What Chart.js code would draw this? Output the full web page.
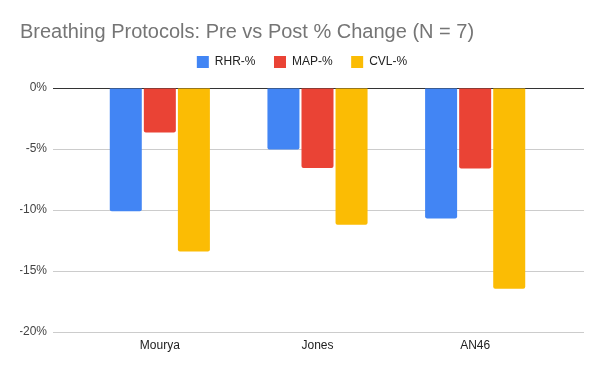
<!DOCTYPE html>
<html>
<head>
<meta charset="utf-8">
<script src="https://cdn.jsdelivr.net/npm/chart.js@4"></script>
<style>
  html, body { margin: 0; padding: 0; background: #fff; }
  #wrap { width: 600px; height: 371px; }
</style>
</head>
<body>
<div id="wrap"><canvas id="chart"></canvas></div>
<script>
// categories and series (% change pre vs post)
const labels = ['Mourya', 'Jones', 'AN46'];
const rhr = [-10.1, -5.05, -10.7];
const map = [-3.65, -6.55, -6.6];
const cvl = [-13.4, -11.2, -16.45];

const yMin = -20;
const yMax = 0;
const yStep = 5;

const gridColor = (ctx) => (ctx.tick && ctx.tick.value === 0) ? '#333333' : '#cccccc';

const data = {
    labels: labels,
    datasets: [{
        label: 'RHR-%',
        backgroundColor: '#4285F4',
        data: rhr,
    },{
        label: 'MAP-%',
        backgroundColor: '#EA4335',
        data: map,
    },{
        label: 'CVL-%',
        backgroundColor: '#FBBC04',
        data: cvl,
    }]
};

const config = {
    type: 'bar',
    data: data,
    options: {
        responsive: true,
        maintainAspectRatio: false,
        animation: false,
        datasets: {
            bar: {
                categoryPercentage: 0.648,
                barPercentage: 0.94,
                borderRadius: 2,
                borderSkipped: 'start'
            }
        },
        layout: {
            padding: { left: 20, right: 16, top: 0, bottom: 0 }
        },
        plugins: {
            title: {
                display: true,
                text: 'Breathing Protocols: Pre vs Post % Change (N = 7)',
                align: 'start',
                color: '#757575',
                font: { family: '"Liberation Sans", Arial, sans-serif', size: 20, weight: 'normal', lineHeight: 1.2 },
                padding: { top: 20.5, bottom: -7 }
            },
            legend: {
                display: true,
                position: 'top',
                weight: 1600,
                labels: {
                    boxWidth: 12,
                    boxHeight: 12,
                    padding: 18.5,
                    color: '#222222',
                    font: { family: '"Liberation Sans", Arial, sans-serif', size: 12 }
                }
            },
            // empty subtitle: just a gap between legend and plot
            subtitle: {
                display: true,
                text: '',
                font: { size: 10, lineHeight: 1 },
                padding: 0
            },
            tooltip: { enabled: false }
        },
        scales: {
            x: {
                grid: { display: false, drawTicks: false },
                border: { display: false },
                ticks: {
                    color: '#222222',
                    padding: 6,
                    font: { family: '"Liberation Sans", Arial, sans-serif', size: 12 }
                },
                afterFit: (scale) => { scale.height = 39; }
            },
            y: {
                position: 'left',
                min: yMin,
                max: yMax,
                grid: { color: gridColor, tickLength: 28, lineWidth: 1 },
                border: { display: false },
                ticks: {
                    stepSize: yStep,
                    padding: 6,
                    color: '#444444',
                    font: { family: '"Liberation Sans", Arial, sans-serif', size: 12 },
                    callback: (v) => v + '%'
                },
                afterFit: (scale) => { scale.width = 61; }
            },
            y2: {
                position: 'right',
                min: yMin,
                max: yMax,
                grid: { color: gridColor, tickLength: 30, lineWidth: 1 },
                border: { display: false },
                ticks: { display: false, stepSize: yStep },
                afterFit: (scale) => { scale.width = 30; }
            }
        }
    }
};

const barChart = new Chart(
    document.getElementById('chart'),
    config
);
</script>
</body>
</html>
